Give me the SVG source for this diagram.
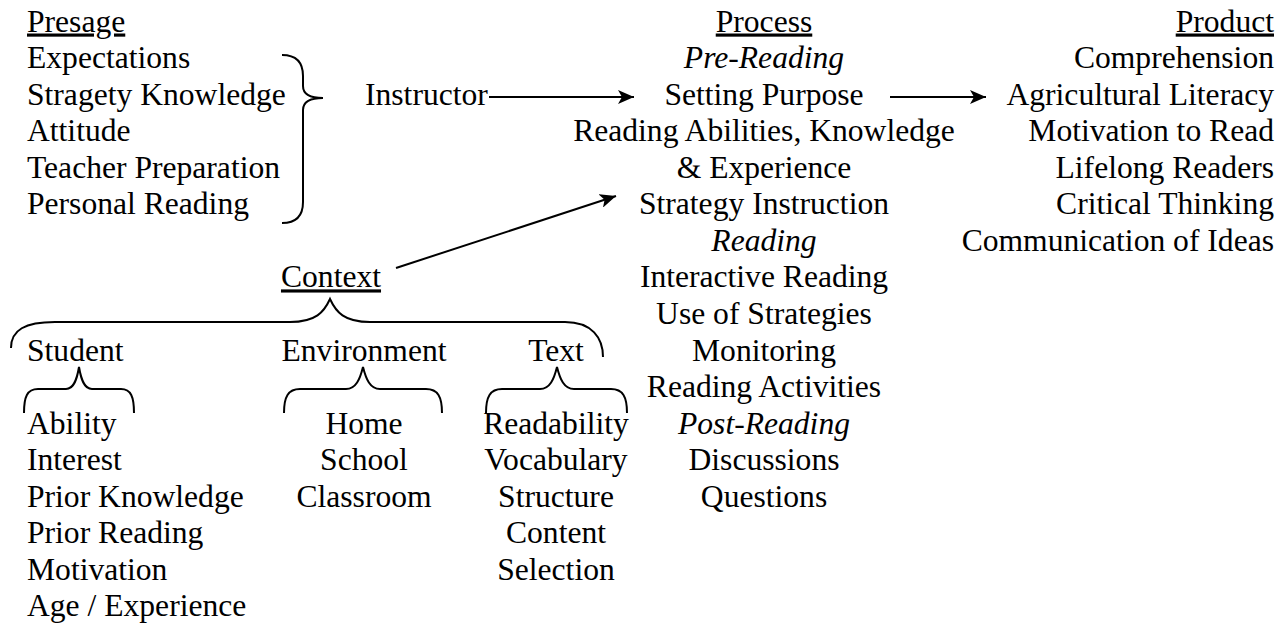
<svg xmlns="http://www.w3.org/2000/svg" width="1286" height="627" viewBox="0 0 1286 627">
<style>
text{font-family:"Liberation Serif","Times New Roman",serif;font-size:31.6px;fill:#000}
.c{text-anchor:middle}
.r{text-anchor:end}
.i{font-style:italic}
.u{text-decoration:underline}
.brace{fill:none;stroke:#000;stroke-width:2}
.arrow{fill:none;stroke:#000;stroke-width:2;marker-end:url(#ah)}
</style>
<defs>
<marker id="ah" markerUnits="userSpaceOnUse" markerWidth="17" markerHeight="14" refX="16" refY="7" orient="auto">
<path d="M0,0 L16,7 L0,14 L4,7 Z" fill="#000"/>
</marker>
</defs>
<rect width="1286" height="627" fill="#fff"/>
<g id="presage">
<text x="27" y="31.5" class="u">Presage</text>
<text x="27" y="68">Expectations</text>
<text x="27" y="104.6">Stragety Knowledge</text>
<text x="27" y="141.2">Attitude</text>
<text x="27" y="177.7">Teacher Preparation</text>
<text x="27" y="214.3">Personal Reading</text>
</g>
<g id="instructor">
<text x="365" y="104.6">Instructor</text>
</g>
<g id="process">
<text x="764" y="31.5" class="c u">Process</text>
<text x="764" y="68" class="c i">Pre-Reading</text>
<text x="764" y="104.6" class="c">Setting Purpose</text>
<text x="764" y="141.2" class="c">Reading Abilities, Knowledge</text>
<text x="764" y="177.7" class="c">&amp; Experience</text>
<text x="764" y="214.3" class="c">Strategy Instruction</text>
<text x="764" y="250.8" class="c i">Reading</text>
<text x="764" y="287.4" class="c">Interactive Reading</text>
<text x="764" y="323.9" class="c">Use of Strategies</text>
<text x="764" y="360.5" class="c">Monitoring</text>
<text x="764" y="397" class="c">Reading Activities</text>
<text x="764" y="433.6" class="c i">Post-Reading</text>
<text x="764" y="470.1" class="c">Discussions</text>
<text x="764" y="506.7" class="c">Questions</text>
</g>
<g id="product">
<text x="1274" y="31.5" class="r u">Product</text>
<text x="1274" y="68" class="r">Comprehension</text>
<text x="1274" y="104.6" class="r">Agricultural Literacy</text>
<text x="1274" y="141.2" class="r">Motivation to Read</text>
<text x="1274" y="177.7" class="r">Lifelong Readers</text>
<text x="1274" y="214.3" class="r">Critical Thinking</text>
<text x="1274" y="250.8" class="r">Communication of Ideas</text>
</g>
<g id="context">
<text x="331" y="287.4" class="c u">Context</text>
</g>
<g id="student">
<text x="27" y="360.5">Student</text>
<text x="27" y="433.6">Ability</text>
<text x="27" y="470.1">Interest</text>
<text x="27" y="506.7">Prior Knowledge</text>
<text x="27" y="543.2">Prior Reading</text>
<text x="27" y="579.8">Motivation</text>
<text x="27" y="616.3">Age / Experience</text>
</g>
<g id="environment">
<text x="364" y="360.5" class="c">Environment</text>
<text x="364" y="433.6" class="c">Home</text>
<text x="364" y="470.1" class="c">School</text>
<text x="364" y="506.7" class="c">Classroom</text>
</g>
<g id="text">
<text x="556" y="360.5" class="c">Text</text>
<text x="556" y="433.6" class="c">Readability</text>
<text x="556" y="470.1" class="c">Vocabulary</text>
<text x="556" y="506.7" class="c">Structure</text>
<text x="556" y="543.2" class="c">Content</text>
<text x="556" y="579.8" class="c">Selection</text>
</g>
<g id="braces">
<path class="brace" d="M282,55 Q303,55 303,76 L303,86 Q303,98 323,98 Q303,98 303,110 L303,202 Q303,223 282,223"/>
<path class="brace" d="M11,348 C11,330 25,322 55,322 L290,322 C316,322 324,312 330,299 C336,312 344,322 370,322 L565,322 C592,322 603,338 603,357"/>
<path class="brace" d="M24,413 C24,397 27,389 38,389 L66,389 C74,389 77,379 79,367 C81,379 84,389 92,389 L121,389 C131,389 134,397 134,413"/>
<path class="brace" d="M284,413 C284,397 288,389 300,389 L346,389 C356,389 360,379 363,367 C366,379 370,389 380,389 L426,389 C438,389 442,397 442,413"/>
<path class="brace" d="M486,413 C486,397 490,389 502,389 L540,389 C550,389 554,379 557,367 C560,379 564,389 574,389 L611,389 C623,389 627,397 627,413"/>
</g>
<g id="connectors">
<line class="arrow" x1="489" y1="97" x2="634" y2="97"/>
<line class="arrow" x1="890" y1="97" x2="986" y2="97"/>
<line class="arrow" x1="396" y1="268" x2="616" y2="196"/>
</g>
</svg>
